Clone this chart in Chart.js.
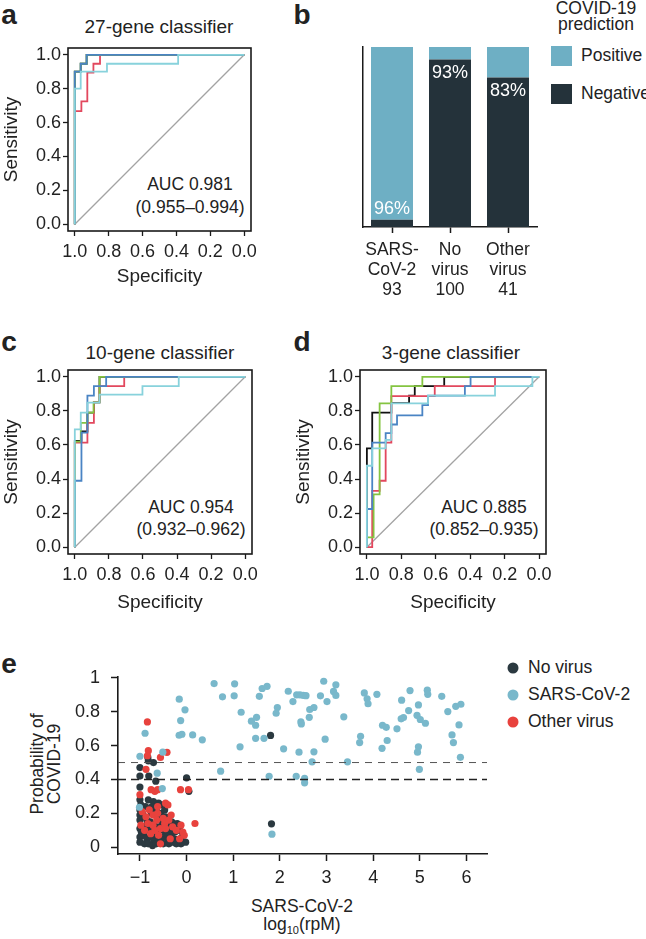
<!DOCTYPE html>
<html>
<head>
<meta charset="utf-8">
<script src="https://cdn.jsdelivr.net/npm/chart.js@4.4.1/dist/chart.umd.min.js"></script>
<style>
  body { margin: 0; width: 646px; height: 939px; position: relative; background: #fff; overflow: hidden;
         font-family: "Liberation Sans", Arial, Helvetica, sans-serif; color: #222; }
  canvas { position: absolute; }
  .t { position: absolute; white-space: nowrap; transform: translate(-50%, -50%); font-size: 17.5px; line-height: 1; }
  .l { position: absolute; white-space: nowrap; transform: translateY(-50%); font-size: 17.5px; line-height: 1; }
  .letter { font-weight: bold; font-size: 28px; }
  .title { font-size: 19px; }
  .rot { transform: translate(-50%, -50%) rotate(-90deg); }
  .sw { position: absolute; width: 21px; height: 20px; }
  .dot { position: absolute; width: 11px; height: 11px; border-radius: 50%; transform: translate(-50%, -50%); }
</style>
</head>
<body>
<!-- panel letters and titles -->
<div class="t letter" style="left:9px;top:15px">a</div>
<div class="t letter" style="left:302px;top:15px">b</div>
<div class="t letter" style="left:9px;top:342px">c</div>
<div class="t letter" style="left:302px;top:342px">d</div>
<div class="t letter" style="left:9px;top:664px">e</div>

<div class="t title" style="left:159px;top:26px">27-gene classifier</div>
<div class="t title" style="left:160px;top:352px">10-gene classifier</div>
<div class="t title" style="left:451px;top:352px">3-gene classifier</div>

<div class="t" style="left:190px;top:185px">AUC 0.981</div>
<div class="t" style="left:190px;top:208px">(0.955–0.994)</div>
<div class="t" style="left:191px;top:508px">AUC 0.954</div>
<div class="t" style="left:191px;top:530px">(0.932–0.962)</div>
<div class="t" style="left:484px;top:508px">AUC 0.885</div>
<div class="t" style="left:484px;top:530px">(0.852–0.935)</div>

<!-- panel b legend -->
<div class="t" style="left:596px;top:9px">COVID-19</div>
<div class="t" style="left:596px;top:25px">prediction</div>
<div class="sw" style="left:551px;top:46px;background:#6eafc4"></div>
<div class="l" style="left:581px;top:56px">Positive</div>
<div class="sw" style="left:551px;top:84px;background:#24323a"></div>
<div class="l" style="left:581px;top:94px">Negative</div>

<!-- panel e titles and legend -->
<div class="t rot" style="left:38px;top:764px">Probability of</div>
<div class="t rot" style="left:55px;top:764px">COVID-19</div>
<div class="t" style="left:302px;top:907px">SARS-CoV-2</div>
<div class="t" style="left:302px;top:926px">log<sub style="font-size:11px">10</sub>(rpM)</div>
<div class="dot" style="left:513px;top:668px;background:#2b3940"></div>
<div class="l" style="left:528px;top:668px">No virus</div>
<div class="dot" style="left:513px;top:695px;background:#79b8cb"></div>
<div class="l" style="left:528px;top:695px">SARS-CoV-2</div>
<div class="dot" style="left:513px;top:722px;background:#e8423d"></div>
<div class="l" style="left:528px;top:722px">Other virus</div>

<canvas id="rocA" width="261" height="248" style="left:0px;top:40px"></canvas>
<canvas id="barB" width="210" height="270" style="left:340px;top:40px"></canvas>
<canvas id="rocC" width="262" height="252" style="left:0px;top:362px"></canvas>
<canvas id="rocD" width="264" height="252" style="left:292px;top:362px"></canvas>
<canvas id="scatE" width="440" height="240" style="left:60px;top:665px"></canvas>

<script>
// ---- ROC curves, [specificity, sensitivity] corner points ----
const rocTicks = [0, 0.2, 0.4, 0.6, 0.8, 1.0];
const diagonal = [[1, 0], [0, 1]];

// 27-gene classifier
const aBlack = [[1,0],[1,0.9],[0.965,0.9],[0.965,0.947],[0.93,0.947],[0.93,1],[0,1]];
const aRed   = [[1,0],[1,0.667],[0.961,0.667],[0.961,0.725],[0.926,0.725],[0.926,0.895],[0.89,0.895],[0.89,0.947],[0.851,0.947],[0.851,1],[0,1]];
const aGreen = [[1,0],[1,0.9],[0.965,0.9],[0.965,0.947],[0.93,0.947],[0.93,1],[0,1]];
const aBlue  = [[1,0],[1,0.9],[0.965,0.9],[0.965,0.947],[0.93,0.947],[0.93,1],[0,1]];
const aCyan  = [[1,0],[1,0.8],[0.965,0.8],[0.965,0.9],[0.81,0.9],[0.81,0.947],[0.39,0.947],[0.39,1],[0,1]];

// 10-gene classifier
const cBlack = [[1,0],[1,0.624],[0.961,0.624],[0.961,0.68],[0.926,0.68],[0.926,0.79],[0.888,0.79],[0.888,0.85],[0.855,0.85],[0.855,1],[0,1]];
const cRed   = [[1,0],[1,0.614],[0.926,0.614],[0.926,0.73],[0.888,0.73],[0.888,0.85],[0.855,0.85],[0.855,0.945],[0.71,0.945],[0.71,1],[0,1]];
const cGreen = [[1,0],[1,0.62],[0.965,0.62],[0.965,0.73],[0.926,0.73],[0.926,0.79],[0.89,0.79],[0.89,0.85],[0.855,0.85],[0.855,1],[0,1]];
const cBlue  = [[1,0],[1,0.39],[0.961,0.39],[0.961,0.672],[0.926,0.672],[0.926,0.89],[0.888,0.89],[0.888,0.945],[0.816,0.945],[0.816,1],[0,1]];
const cCyan  = [[1,0],[1,0.692],[0.965,0.692],[0.965,0.79],[0.926,0.79],[0.926,0.848],[0.855,0.848],[0.855,0.895],[0.603,0.895],[0.603,0.945],[0.39,0.945],[0.39,1],[0,1]];

// 3-gene classifier
const dBlack = [[1,0],[1,0.58],[0.969,0.58],[0.969,0.79],[0.858,0.79],[0.858,0.845],[0.755,0.845],[0.755,0.89],[0.722,0.89],[0.722,0.945],[0.551,0.945],[0.551,1],[0,1]];
const dRed   = [[1,0],[0.969,0],[0.969,0.33],[0.926,0.33],[0.926,0.39],[0.891,0.39],[0.891,0.614],[0.858,0.614],[0.858,0.887],[0.606,0.887],[0.606,0.945],[0.256,0.945],[0.256,1],[0,1]];
const dGreen = [[1,0],[1,0.058],[0.961,0.058],[0.961,0.31],[0.926,0.31],[0.926,0.844],[0.858,0.844],[0.858,0.945],[0.678,0.945],[0.678,1],[0,1]];
const dBlue  = [[1,0],[1,0.224],[0.969,0.224],[0.969,0.614],[0.891,0.614],[0.891,0.67],[0.858,0.67],[0.858,0.72],[0.825,0.72],[0.825,0.774],[0.678,0.774],[0.678,0.834],[0.645,0.834],[0.645,0.89],[0.431,0.89],[0.431,0.945],[0.398,0.945],[0.398,1],[0,1]];
const dCyan  = [[1,0],[1,0.478],[0.969,0.478],[0.969,0.58],[0.891,0.58],[0.891,0.63],[0.858,0.63],[0.858,0.844],[0.645,0.844],[0.645,0.89],[0.256,0.89],[0.256,0.945],[0.039,0.945],[0.039,1],[0,1]];

// ---- panel b: COVID-19 prediction by group ----
const groupLines = [['SARS-', 'CoV-2'], ['No', 'virus'], ['Other', 'virus']];
const groupCounts = [93, 100, 41];
const negativePct = [4, 93, 83];
const positivePct = [96, 7, 17];
const correctPct = [96, 93, 83];

// ---- panel e: probability vs SARS-CoV-2 log10(rpM) ----
const eXTicks = [-1, 0, 1, 2, 3, 4, 5, 6];
const eYTicks = [0, 0.2, 0.4, 0.6, 0.8, 1];
const thresholds = [0.5, 0.4];

const noVirus = [
  [-0.82,0.51],[-0.71,0.5],[-1.0,0.47],[-1.0,0.42],[-0.81,0.42],[-0.66,0.39],[0.0,0.41],[0.05,0.33],[-1.0,0.355],[-0.83,0.53],
  [1.8,0.66],[1.82,0.138],
  [-1.0,0.28],[-0.82,0.28],[-0.71,0.27],[-0.6,0.26],[-1.0,0.22],[-0.95,0.2],[-1.0,0.19],[-0.9,0.18],[-1.0,0.16],[-0.85,0.16],
  [-0.75,0.2],[-0.65,0.22],[-0.55,0.2],[-0.5,0.25],[-0.45,0.18],[-1.0,0.11],[-0.93,0.12],[-0.8,0.1],[-0.7,0.13],[-0.6,0.12],
  [-0.5,0.1],[-0.42,0.13],[-0.35,0.12],[-0.28,0.14],[-0.2,0.14],[-0.15,0.1],[-0.1,0.06],[-1.0,0.06],[-0.92,0.07],[-0.85,0.05],
  [-0.78,0.06],[-0.7,0.04],[-0.62,0.06],[-0.55,0.05],[-0.48,0.06],[-0.4,0.04],[-0.33,0.07],[-0.26,0.05],[-0.18,0.03],[-1.0,0.03],
  [-0.9,0.02],[-0.82,0.02],[-0.73,0.01],[-0.65,0.02],[-0.58,0.03],[-0.5,0.02],[-0.38,0.02],[-0.3,0.03],[-0.22,0.02],[-0.02,0.03],
  [-0.12,0.02],[-0.88,0.24],[-0.78,0.15],[-0.66,0.09],[-0.52,0.15],[-0.36,0.09],[-0.25,0.09],[-0.15,0.13],[-0.97,0.09],[-0.86,0.13],
  [-0.74,0.24],[-0.58,0.17],[-0.44,0.08],[-0.32,0.15],[-0.62,0.25],[-0.98,0.25],[-0.7,0.08],[-0.47,0.22]
];
const sarsCov2 = [
  [0.59,0.966],[1.03,0.965],[-0.157,0.874],[0.77,0.888],[1.02,0.894],[-0.034,0.811],[1.56,0.891],[1.62,0.937],[1.725,0.95],[1.17,0.797],
  [-0.127,0.748],[-0.16,0.661],[-0.1,0.667],[0.13,0.663],[0.337,0.634],[1.39,0.744],[1.5,0.767],[1.48,0.72],[1.48,0.643],[1.66,0.643],
  [1.146,0.593],[0.73,0.449],[1.946,0.825],[1.92,0.791],[2.18,0.921],[2.28,0.86],[2.36,0.9],[2.43,0.9],[2.5,0.897],[2.56,0.895],
  [2.45,0.74],[2.46,0.728],[2.64,0.813],[2.73,0.825],[2.63,0.767],[2.08,0.581],[2.41,0.561],[2.73,0.563],[2.69,0.504],[1.77,0.419],
  [2.35,0.419],[2.53,0.406],[2.53,0.38],[2.94,0.98],[3.2,0.959],[2.87,0.894],[3.15,0.92],[3.2,0.896],[3.01,0.86],[3.37,0.77],
  [2.97,0.638],[3.45,0.504],[1.83,0.077],[3.81,0.911],[3.87,0.876],[3.89,0.847],[4.08,0.903],[3.73,0.655],[3.71,0.618],[4.2,0.72],
  [4.28,0.708],[4.3,0.63],[4.19,0.584],[4.51,0.699],[4.61,0.868],[4.6,0.758],[4.65,0.766],[4.76,0.807],[4.79,0.925],[4.97,0.84],
  [4.94,0.779],[5.01,0.754],[5.12,0.732],[5.16,0.927],[5.17,0.903],[5.47,0.891],[5.6,0.801],[5.77,0.832],[5.88,0.844],[5.84,0.722],
  [5.69,0.663],[5.72,0.618],[5.87,0.531],[4.97,0.593],[4.95,0.561],[4.99,0.46],
  [-0.89,0.673],[-1.0,0.537],[-0.51,0.561],[-0.63,0.437],[-0.52,0.346],[-1.01,0.236]
];
const otherVirus = [
  [-0.84,0.74],[-0.82,0.57],[-0.42,0.56],[-0.56,0.53],[-0.87,0.46],[-0.84,0.54],[-0.76,0.34],[-0.68,0.33],[-0.62,0.34],[-0.13,0.34],
  [0.04,0.34],[-1.0,0.31],[0.18,0.14],[-0.45,0.26],[-0.4,0.25],
  [-0.95,0.21],[-0.87,0.18],[-0.8,0.22],[-0.72,0.19],[-0.62,0.2],[-0.5,0.17],[-0.83,0.14],[-0.72,0.13],[-0.64,0.16],[-0.56,0.11],
  [-0.47,0.14],[-0.38,0.16],[-0.3,0.12],[-0.22,0.1],[-0.12,0.13],[-0.08,0.09],[-0.9,0.1],[-0.77,0.08],[-0.6,0.07],[-0.45,0.11],
  [-0.35,0.05],[-0.15,0.05],[-0.05,0.07],[-0.56,0.02],[-0.62,0.24],[-0.33,0.19],[-0.68,0.1],[-0.98,0.13]
];

// ---- styles ----
Chart.defaults.font.family = "'Liberation Sans', Arial, Helvetica, sans-serif";
Chart.defaults.font.size = 18;
Chart.defaults.color = '#222';

const rocColors = ['#111111', '#e2485e', '#84c441', '#4a84c4', '#88d2dc'];
const INK = '#1a1a1a';
const toXY = p => ({ x: p[0], y: p[1] });

// keep the plot box where it is: tick labels may spill into the layout padding
const noVPad = s => { s.paddingTop = 0; s.paddingBottom = 0; };

const boxPlugin = {
  id: 'box',
  afterDatasetsDraw(chart) {
    const { ctx, chartArea: a } = chart;
    ctx.save();
    ctx.strokeStyle = INK;
    ctx.lineWidth = 1.6;
    ctx.strokeRect(a.left, a.top, a.right - a.left, a.bottom - a.top);
    ctx.restore();
  }
};

function rocAxis(title, reverse, fit, pad) {
  return {
    type: 'linear', reverse: reverse, min: -0.04, max: 1.04,
    afterBuildTicks: s => { s.ticks = rocTicks.map(v => ({ value: v })); },
    afterFit: fit,
    ticks: { callback: v => v.toFixed(1), padding: pad, maxRotation: 0, autoSkip: false, color: '#222' },
    grid: { drawOnChartArea: false, tickLength: 5, color: INK, tickWidth: 1.3 },
    border: { display: false },
    title: { display: true, text: title, font: { size: 19 }, padding: 0, color: '#222' }
  };
}

function makeRoc(id, curves, xHeight) {
  const datasets = [{ data: diagonal.map(toXY), borderColor: '#a3a3a3', borderWidth: 1.3, order: 10 }];
  curves.forEach((c, i) => datasets.push({ data: c.map(toXY), borderColor: rocColors[i], borderWidth: 1.8, order: 5 - i }));
  datasets.forEach(d => Object.assign(d, { showLine: true, pointRadius: 0, fill: false }));
  new Chart(document.getElementById(id), {
    type: 'scatter',
    data: { datasets },
    options: {
      responsive: false, animation: false, events: [],
      layout: { padding: { top: 8, right: 10, left: 0, bottom: 0 } },
      plugins: { legend: { display: false }, tooltip: { enabled: false } },
      scales: {
        x: rocAxis('Specificity', true, s => { s.height = xHeight; }, 5),
        y: rocAxis('Sensitivity', false, s => { s.width = 68; noVPad(s); }, 2)
      }
    },
    plugins: [boxPlugin]
  });
}

makeRoc('rocA', [aBlack, aRed, aGreen, aBlue, aCyan], 57);
makeRoc('rocC', [cBlack, cRed, cGreen, cBlue, cCyan], 60);
makeRoc('rocD', [dBlack, dRed, dGreen, dBlue, dCyan], 60);

// ---- panel b ----
const pctLabels = {
  id: 'pctLabels',
  afterDatasetsDraw(chart) {
    const { ctx, scales: { x, y } } = chart;
    ctx.save();
    ctx.fillStyle = '#ffffff';
    ctx.font = "18px 'Liberation Sans', Arial, sans-serif";
    ctx.textAlign = 'center';
    ctx.textBaseline = 'middle';
    correctPct.forEach((p, i) => {
      const edge = y.getPixelForValue(negativePct[i]);
      ctx.fillText(p + '%', x.getPixelForValue(i), i === 0 ? edge - 11 : edge + 13);
    });
    ctx.restore();
  }
};

new Chart(document.getElementById('barB'), {
  type: 'bar',
  data: {
    labels: groupLines.map((l, i) => l.concat(String(groupCounts[i]))),
    datasets: [
      { label: 'Negative', data: negativePct, backgroundColor: '#24323a' },
      { label: 'Positive', data: positivePct, backgroundColor: '#6eafc4' }
    ]
  },
  options: {
    responsive: false, animation: false, events: [],
    barPercentage: 0.724, categoryPercentage: 1,
    layout: { padding: { top: 7, right: 13, left: 23, bottom: 0 } },
    plugins: { legend: { display: false }, tooltip: { enabled: false } },
    scales: {
      x: {
        stacked: true,
        afterFit: s => { s.height = 83; },
        ticks: { padding: 7, maxRotation: 0, autoSkip: false, color: '#222', font: { size: 17.5, lineHeight: 1.14 } },
        grid: { drawOnChartArea: false, offset: false, tickLength: 6, color: INK, tickWidth: 1.5 },
        border: { display: true, color: INK, width: 1.5 }
      },
      y: {
        stacked: true, min: 0, max: 100,
        afterFit: s => { s.width = 0; noVPad(s); },
        ticks: { display: false },
        grid: { display: false },
        border: { display: true, color: INK, width: 1.5 }
      }
    }
  },
  plugins: [pctLabels]
});

// ---- panel e ----
const eXMin = -1.47, eXMax = 6.44;
const pointSet = (data, color, order) => ({
  data: data.map(toXY), backgroundColor: color, borderWidth: 0, pointRadius: 3.6, order: order
});
const dashSet = (t, dash, width, color) => ({
  data: [{ x: eXMin, y: t }, { x: eXMax, y: t }], showLine: true, pointRadius: 0,
  borderColor: color, borderWidth: width, borderDash: dash, order: 0
});

new Chart(document.getElementById('scatE'), {
  type: 'scatter',
  data: {
    datasets: [
      pointSet(noVirus, '#2b3940', 4),
      pointSet(otherVirus, '#e8423d', 3),
      pointSet(sarsCov2, '#79b8cb', 2),
      dashSet(thresholds[0], [7, 6], 1, '#555555'),
      dashSet(thresholds[1], [8, 5], 1.6, '#222222')
    ]
  },
  options: {
    responsive: false, animation: false, events: [],
    layout: { padding: { top: 12, right: 13, left: 0, bottom: 0 } },
    plugins: { legend: { display: false }, tooltip: { enabled: false } },
    scales: {
      x: {
        type: 'linear', min: eXMin, max: eXMax,
        afterBuildTicks: s => { s.ticks = eXTicks.map(v => ({ value: v })); },
        afterFit: s => { s.height = 51; },
        ticks: { callback: v => v < 0 ? '\u2212' + Math.abs(v) : String(v), padding: 6, maxRotation: 0, autoSkip: false, color: '#222' },
        grid: { drawOnChartArea: false, tickLength: 7, color: INK, tickWidth: 1.5 },
        border: { display: true, color: INK, width: 1.6 }
      },
      y: {
        type: 'linear', min: -0.04, max: 1.005,
        afterBuildTicks: s => { s.ticks = eYTicks.map(v => ({ value: v })); },
        afterFit: s => { s.width = 58; noVPad(s); },
        ticks: { callback: v => (v === 0 || v === 1) ? String(v) : v.toFixed(1), padding: 11, color: '#222' },
        grid: { drawOnChartArea: false, tickLength: 7, color: INK, tickWidth: 1.5 },
        border: { display: true, color: INK, width: 1.6 }
      }
    }
  }
});
</script>
</body>
</html>
